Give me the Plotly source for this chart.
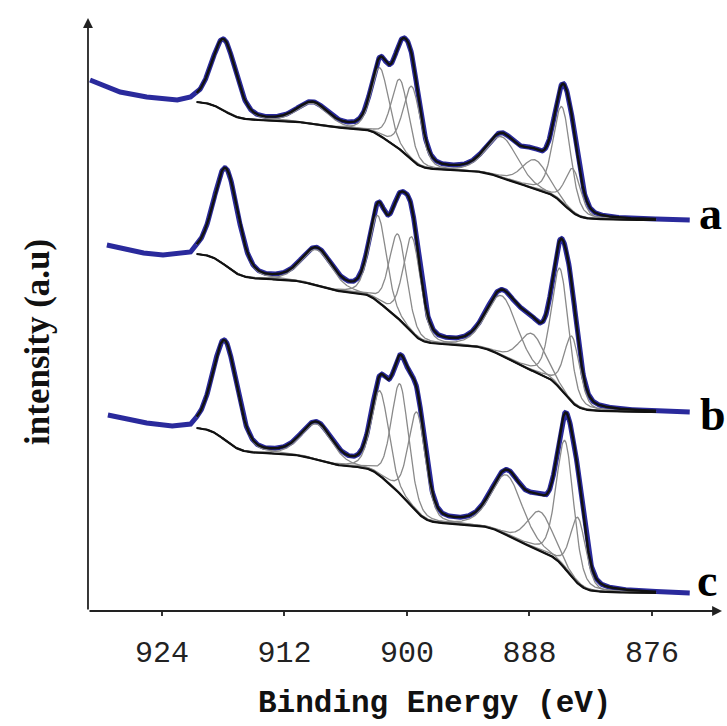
import numpy as np
import plotly.graph_objects as go

# ---- axis ticks ----
E_TICKS = [924, 912, 900, 888, 876]
TICK_TEXT = ["924", "912", "900", "888", "876"]

# ---- Ce 3d fitted components: centre (eV), height above background, FWHM (eV) ----
A_CENTER = [917.93, 909.21, 902.64, 900.68, 899.51, 890.69, 887.46, 884.82, 883.74]
A_HEIGHT = [71, 21, 68, 70, 74, 41, 29, 96, 44]
B_CENTER = [917.73, 908.82, 902.84, 900.88, 899.51, 890.69, 887.75, 885.01, 883.84]
B_HEIGHT = [97, 36, 86, 84, 96, 60, 37, 120, 66]
C_CENTER = [917.83, 908.82, 902.64, 900.68, 899.02, 890.20, 886.97, 884.52, 883.25]
C_HEIGHT = [99, 36, 85, 110, 100, 60, 39, 128, 66]
FWHM = [2.8, 3.5, 2.0, 2.0, 2.0, 3.6, 3.0, 2.0, 1.8]
LORENTZ_FRAC = 0.3

# background level at the high-BE and low-BE ends of the fit window
A_BG = [509, 391]
B_BG = [357, 199]
C_BG = [183, 18]

# measured counts outside the fit window (high-BE side)
A_TAIL_E = [931.05, 929.4, 928.1, 925.5, 922.5, 921.2]
A_TAIL_I = [531, 525, 519, 514, 511, 514]
B_TAIL_E = [929.4, 927.5, 925.8, 923.9, 921.2]
B_TAIL_I = [366, 362, 358, 356, 359]
C_TAIL_E = [929.3, 927.0, 925.5, 923.0, 921.2]
C_TAIL_I = [196, 191, 188, 185, 187]
# low-BE end of the measured scan
SCAN_END = 872.3

FIT_HI, FIT_LO = 920.6, 875.6
LABELS = ["a", "b", "c"]

BLUE = "#2a2a9c"
GRAY = "#8a8a8a"
BLACK = "#111111"


def gl_peak(e, c, h, w):
    x = ((e - c) / w) ** 2
    return h * ((1 - LORENTZ_FRAC) * np.exp(-4 * np.log(2) * x)
                + LORENTZ_FRAC / (1 + 4 * x))


def build(centers, heights, bg_ends):
    e = np.arange(FIT_HI, FIT_LO - 1e-9, -0.05)
    comps = [gl_peak(e, c, h, w) for c, h, w in zip(centers, heights, FWHM)]
    total = np.sum(comps, axis=0)
    # Shirley-type step: background follows the integrated peak area from the low-BE end
    asc = total[::-1]
    cum = np.concatenate([[0], np.cumsum((asc[1:] + asc[:-1]) / 2)])[::-1]
    bg = bg_ends[1] + (bg_ends[0] - bg_ends[1]) * cum / cum[0]
    return e, comps, bg, bg + total


fig = go.Figure()
spectra = [
    (A_CENTER, A_HEIGHT, A_BG, A_TAIL_E, A_TAIL_I),
    (B_CENTER, B_HEIGHT, B_BG, B_TAIL_E, B_TAIL_I),
    (C_CENTER, C_HEIGHT, C_BG, C_TAIL_E, C_TAIL_I),
]
label_pos = [(870.3, 398), (870.0, 197), (870.6, 31)]

for (cen, hgt, bge, te, ti), lab, (lx, ly) in zip(spectra, LABELS, label_pos):
    e, comps, bg, env = build(cen, hgt, bge)
    raw_e = np.concatenate([te, e, [SCAN_END]])
    raw_i = np.concatenate([ti, env, [bge[1]]])
    fig.add_trace(go.Scatter(x=raw_e, y=raw_i, mode="lines",
                             line=dict(color=BLUE, width=5), hoverinfo="skip"))
    for comp in comps:
        fig.add_trace(go.Scatter(x=e, y=bg + comp, mode="lines",
                                 line=dict(color=GRAY, width=1.3), hoverinfo="skip"))
    fig.add_trace(go.Scatter(x=e, y=bg, mode="lines",
                             line=dict(color=BLACK, width=2.2), hoverinfo="skip"))
    fig.add_trace(go.Scatter(x=e, y=env, mode="lines",
                             line=dict(color=BLACK, width=2.4), hoverinfo="skip"))
    fig.add_annotation(x=lx, y=ly, text="<b>%s</b>" % lab, showarrow=False,
                       font=dict(family="Liberation Serif", size=46, color="#000"),
                       xanchor="center", yanchor="middle")

# axes drawn as arrows
Y_AXIS_E = 931.25
fig.add_annotation(x=869.14, y=0, ax=Y_AXIS_E, ay=0, axref="x", ayref="y",
                   text="", showarrow=True, arrowhead=2, arrowsize=1.1,
                   arrowwidth=1.8, arrowcolor="#222")
fig.add_annotation(x=Y_AXIS_E, y=593, ax=Y_AXIS_E, ay=0, axref="x", ayref="y",
                   text="", showarrow=True, arrowhead=2, arrowsize=1.1,
                   arrowwidth=1.8, arrowcolor="#222")

fig.add_annotation(x=434 / 727, y=(611 - 703) / 611, xref="paper", yref="paper",
                   text="<b>Binding Energy (eV)</b>", showarrow=False,
                   font=dict(family="Liberation Mono", size=31, color="#111"),
                   xanchor="center", yanchor="middle")
fig.add_annotation(x=936.25, y=269, text="<b>intensity (a.u)</b>", showarrow=False,
                   textangle=-90,
                   font=dict(family="Liberation Serif", size=35, color="#111"),
                   xanchor="center", yanchor="middle")

fig.update_layout(
    width=727, height=726,
    margin=dict(l=0, r=0, t=0, b=115),
    paper_bgcolor="white", plot_bgcolor="white",
    showlegend=False,
    xaxis=dict(range=[939.87, 868.65], tickvals=E_TICKS, ticktext=TICK_TEXT,
               ticks="outside", ticklen=4, tickwidth=1.5, tickcolor="#333",
               showline=False, showgrid=False, zeroline=False,
               tickfont=dict(family="Liberation Mono", size=30, color="#222"),
               ticklabelstandoff=10),
    yaxis=dict(range=[0, 611], visible=False),
)

fig.write_html("out.html")
